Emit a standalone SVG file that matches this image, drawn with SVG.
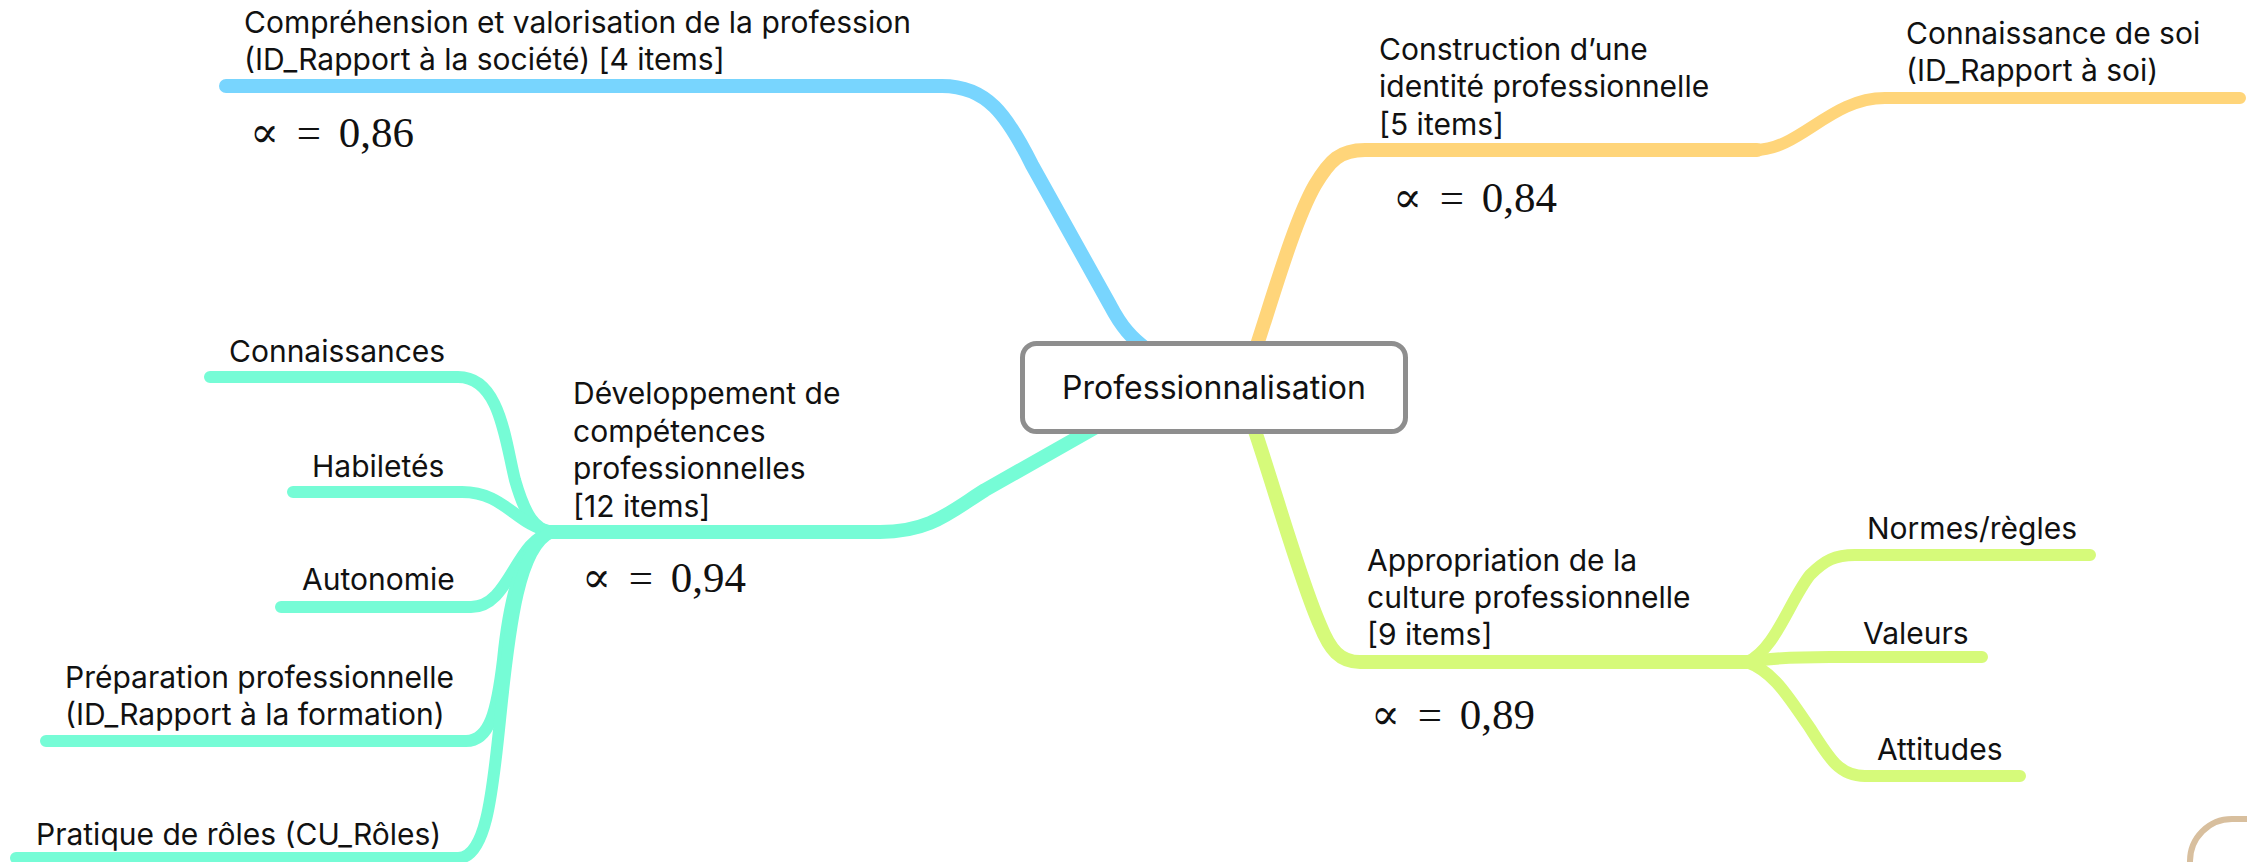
<svg xmlns="http://www.w3.org/2000/svg" width="2247" height="862" viewBox="0 0 2247 862">
<style>
.bg{fill:#ffffff}
.c{fill:none;stroke-linecap:round;stroke-linejoin:round}
.main{stroke-width:14}
.sub{stroke-width:12}
.blue{stroke:#78D5FE}
.orange{stroke:#FFD57A}
.teal{stroke:#76FCD6}
.green{stroke:#D6FA7A}
.t{font-family:Inter,"Liberation Sans",Arial,sans-serif;font-size:30px;fill:#111111}
.center{font-size:32px;text-anchor:middle}
.a{font-family:"Liberation Serif","DejaVu Serif",serif;font-size:43px;fill:#111111;word-spacing:7px}
.box{fill:#ffffff;stroke:#8E8E8E;stroke-width:5}
</style>
<rect class="bg" x="0" y="0" width="2247" height="862"/>
<g id="connectors">
  <path class="c main blue" d="M226,86 H942 C987,86 1007,115 1032,165 L1110,305 C1122,328 1132,338 1145,348"/>
  <path class="c main orange" d="M1256,348 C1275,290 1295,220 1315,185 C1330,160 1340,150 1365,150 H1757"/>
  <path class="c sub orange" d="M1755,150 C1800,150 1830,98 1885,98 H2240"/>
  <path class="c main teal" d="M1098,426 L985,490 C950,512 930,532 880,532 H550"/>
  <path class="c sub teal" d="M210,377 H458 C500,377 505,440 515,480 C525,515 535,530 552,532"/>
  <path class="c sub teal" d="M293,492 H462 C505,492 515,525 552,532"/>
  <path class="c sub teal" d="M281,607 H471 C510,607 515,540 552,532"/>
  <path class="c sub teal" d="M46,741 H466 C490,741 497,710 503,660 C510,590 525,540 552,532"/>
  <path class="c sub teal" d="M16,858 H458 C485,858 492,800 500,720 C510,620 520,545 552,532"/>
  <path class="c main green" d="M1254,428 C1275,490 1300,580 1320,625 C1330,650 1340,662 1360,662 H1747"/>
  <path class="c sub green" d="M1747,662 C1775,650 1790,600 1810,575 C1825,560 1835,555 1855,555 H2090"/>
  <path class="c sub green" d="M1747,662 C1770,658 1800,657 1830,657 H1982"/>
  <path class="c sub green" d="M1747,662 C1775,672 1790,700 1810,728 C1830,760 1840,776 1865,776 H2020"/>
</g>
<g id="node-center">
  <rect class="box" x="1022.5" y="343.5" width="383" height="88" rx="14"/>
  <text class="t center" x="1214" y="399">Professionnalisation</text>
</g>
<g id="node-comprehension">
  <text class="t" x="244" y="33">Compréhension et valorisation de la profession</text>
  <text class="t" x="244" y="70">(ID_Rapport à la société) [4 items]</text>
  <text class="a" x="250" y="147">∝ = 0,86</text>
</g>
<g id="node-construction">
  <text class="t" x="1379" y="60">Construction d’une</text>
  <text class="t" x="1379" y="97">identité professionnelle</text>
  <text class="t" x="1379" y="135">[5 items]</text>
  <text class="a" x="1393" y="212">∝ = 0,84</text>
</g>
<g id="node-connaissance-soi">
  <text class="t" x="1906" y="44">Connaissance de soi</text>
  <text class="t" x="1906" y="81">(ID_Rapport à soi)</text>
</g>
<g id="node-developpement">
  <text class="t" x="573" y="404">Développement de</text>
  <text class="t" x="573" y="442">compétences</text>
  <text class="t" x="573" y="479">professionnelles</text>
  <text class="t" x="573" y="517">[12 items]</text>
  <text class="a" x="582" y="592">∝ = 0,94</text>
</g>
<g id="node-connaissances"><text class="t" x="229" y="362">Connaissances</text></g>
<g id="node-habiletes"><text class="t" x="312" y="477">Habiletés</text></g>
<g id="node-autonomie"><text class="t" x="302" y="590">Autonomie</text></g>
<g id="node-preparation">
  <text class="t" x="65" y="688">Préparation professionnelle</text>
  <text class="t" x="65" y="725">(ID_Rapport à la formation)</text>
</g>
<g id="node-pratique"><text class="t" x="36" y="845">Pratique de rôles (CU_Rôles)</text></g>
<g id="node-appropriation">
  <text class="t" x="1367" y="571">Appropriation de la</text>
  <text class="t" x="1367" y="608">culture professionnelle</text>
  <text class="t" x="1367" y="645">[9 items]</text>
  <text class="a" x="1371" y="729">∝ = 0,89</text>
</g>
<g id="node-normes"><text class="t" x="1867" y="539">Normes/règles</text></g>
<g id="node-valeurs"><text class="t" x="1863" y="644">Valeurs</text></g>
<g id="node-attitudes"><text class="t" x="1877" y="760">Attitudes</text></g>
<g id="node-partial">
  <path d="M2250,819 H2232 A42,42 0 0 0 2190,861 V866" fill="none" stroke="#D8BF9E" stroke-width="6"/>
</g>
</svg>
